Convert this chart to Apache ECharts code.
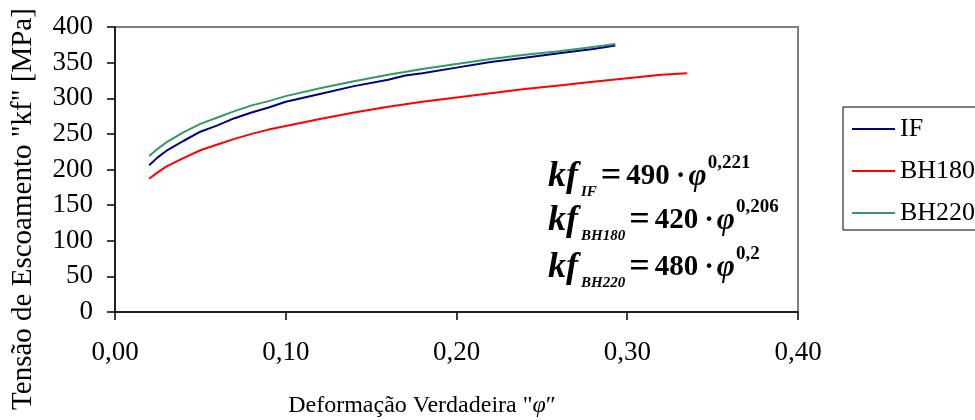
<!DOCTYPE html>
<html>
<head>
<meta charset="utf-8">
<script src="https://cdn.jsdelivr.net/npm/echarts@6/dist/echarts.min.js"></script>
<style>
  html, body { margin: 0; padding: 0; background: #fff; }
  #box { width: 975px; height: 420px; }
</style>
</head>
<body>
<div id="box"></div>
<script>
// dados (deformação verdadeira x tensão de escoamento)
var strainIF = [0.020, 0.025, 0.030, 0.035, 0.040, 0.050, 0.060, 0.070, 0.080, 0.090, 0.100, 0.120, 0.140, 0.160, 0.170, 0.180, 0.200, 0.220, 0.240, 0.260, 0.280, 0.293];
var stressIF = [206, 217, 226, 233, 240, 253, 262, 272, 280, 287, 295, 306, 317, 326, 332, 335, 343, 351, 357, 363, 369, 374];

var strainBH180 = [0.020, 0.025, 0.030, 0.035, 0.040, 0.050, 0.060, 0.070, 0.080, 0.090, 0.100, 0.120, 0.140, 0.160, 0.180, 0.200, 0.220, 0.240, 0.260, 0.280, 0.300, 0.320, 0.335];
var stressBH180 = [187, 196, 204, 210, 216, 227, 235, 243, 250, 256, 261, 271, 280, 288, 295, 301, 307, 313, 318, 323, 328, 333, 335];

var strainBH220 = [0.020, 0.025, 0.030, 0.035, 0.040, 0.050, 0.060, 0.070, 0.080, 0.090, 0.100, 0.120, 0.140, 0.160, 0.180, 0.200, 0.220, 0.240, 0.260, 0.280, 0.293];
var stressBH220 = [219, 229, 238, 245, 252, 264, 273, 282, 290, 296, 303, 314, 324, 333, 341, 348, 355, 361, 366, 372, 376];

var seriesNames = ['IF', 'BH180', 'BH220'];
var seriesColors = ['#000080', '#ff0000', '#339966'];

var xTicks = [0, 0.1, 0.2, 0.3, 0.4];
var yTicks = [0, 50, 100, 150, 200, 250, 300, 350, 400];

var equations = [
	{ sub: 'IF', coef: '490', exp: '0,221' },
	{ sub: 'BH180', coef: '420', exp: '0,206' },
	{ sub: 'BH220', coef: '480', exp: '0,2' }
];

var font = '"Liberation Serif", "Times New Roman", serif';

function zip(xs, ys) {
	var out = [];
	for (var i = 0; i < xs.length; i++) out.push([xs[i], ys[i]]);
	return out;
}

var pairs = [zip(strainIF, stressIF), zip(strainBH180, stressBH180), zip(strainBH220, stressBH220)];

var seriesList = [];
for (var i = 0; i < seriesNames.length; i++) {
	seriesList.push({
		name: seriesNames[i],
		type: 'line',
		data: pairs[i],
		symbol: 'none',
		smooth: false,
		lineStyle: { color: seriesColors[i], width: 2 },
		itemStyle: { color: seriesColors[i] }
	});
}

var eqY = [177, 221, 268];
var graphics = [
	{
		type: 'text',
		x: 23, y: 209,
		rotation: Math.PI / 2,
		style: {
			text: 'Tensão de Escoamento "kf" [MPa]',
			font: '29px ' + font,
			fill: '#000',
			align: 'center',
			verticalAlign: 'middle'
		}
	},
	{
		type: 'text',
		x: 422, y: 406,
		style: {
			text: 'Deformação Verdadeira "{i|φ}″',
			font: '24px ' + font,
			fill: '#000',
			align: 'center',
			verticalAlign: 'middle',
			rich: { i: { fontFamily: font, fontSize: 24, fontStyle: 'italic', fill: '#000' } }
		}
	}
];

equations.forEach(function (e, k) {
	graphics.push({
		type: 'text',
		x: 548, y: eqY[k],
		style: {
			text: '{kf|kf}{sub|' + e.sub + '}{eq|=}{num|' + e.coef + '}{dot|·}{phi|φ}{sup|' + e.exp + '}',
			fill: '#000',
			align: 'left',
			verticalAlign: 'middle',
			rich: {
				kf: { fontFamily: font, fontSize: 36, fontWeight: 'bold', fontStyle: 'italic', lineHeight: 46, padding: [0, 3, 0, 0] },
				sub: { fontFamily: font, fontSize: 15, fontWeight: 'bold', fontStyle: 'italic', lineHeight: 23, verticalAlign: 'bottom' },
				eq: { fontFamily: font, fontSize: 36, fontWeight: 'bold', lineHeight: 46, padding: [0, 5, 0, 4] },
				num: { fontFamily: font, fontSize: 29, fontWeight: 'bold', lineHeight: 46 },
				dot: { fontFamily: font, fontSize: 29, fontWeight: 'bold', lineHeight: 46, padding: [0, 3, 0, 6] },
				phi: { fontFamily: font, fontSize: 31, fontWeight: 'bold', fontStyle: 'italic', lineHeight: 46 },
				sup: { fontFamily: font, fontSize: 19, fontWeight: 'bold', lineHeight: 4, verticalAlign: 'top', padding: [0, 0, 0, 1] }
			}
		}
	});
});

var dom = document.getElementById('box');
var myChart = echarts.init(dom, null, { renderer: 'canvas' });
var option = {
	backgroundColor: '#fff',
	animation: false,
	textStyle: { fontFamily: font },
	grid: {
		left: 115, right: 177, top: 27, bottom: 108,
		show: true,
		borderColor: '#808080',
		borderWidth: 2,
		containLabel: false
	},
	legend: {
		data: seriesNames,
		orient: 'vertical',
		left: 843,
		top: 107,
		padding: [9, 30, 4, 9],
		itemGap: 16,
		itemWidth: 43,
		itemHeight: 2,
		icon: 'rect',
		borderColor: '#000',
		borderWidth: 1,
		textStyle: { fontFamily: font, fontSize: 26, color: '#000', lineHeight: 26 }
	},
	xAxis: {
		type: 'value',
		min: xTicks[0],
		max: xTicks[xTicks.length - 1],
		interval: 0.1,
		axisLine: { show: true, onZero: false, lineStyle: { color: '#000', width: 1.5 } },
		axisTick: { show: true, length: 8, lineStyle: { color: '#000', width: 1.5 } },
		axisLabel: {
			fontFamily: font, fontSize: 27, color: '#000', margin: 27,
			formatter: function (v) { return v.toFixed(2).replace('.', ','); }
		},
		splitLine: { show: false }
	},
	yAxis: {
		type: 'value',
		min: yTicks[0],
		max: yTicks[yTicks.length - 1],
		interval: 50,
		axisLine: { show: true, onZero: false, lineStyle: { color: '#000', width: 1.5 } },
		axisTick: { show: true, length: 8, lineStyle: { color: '#000', width: 1.5 } },
		axisLabel: { fontFamily: font, fontSize: 27, color: '#000', margin: 22 },
		splitLine: { show: false }
	},
	graphic: graphics,
	series: seriesList
};

if (option && typeof option === 'object') {
	myChart.setOption(option, true);
}
</script>
</body>
</html>
